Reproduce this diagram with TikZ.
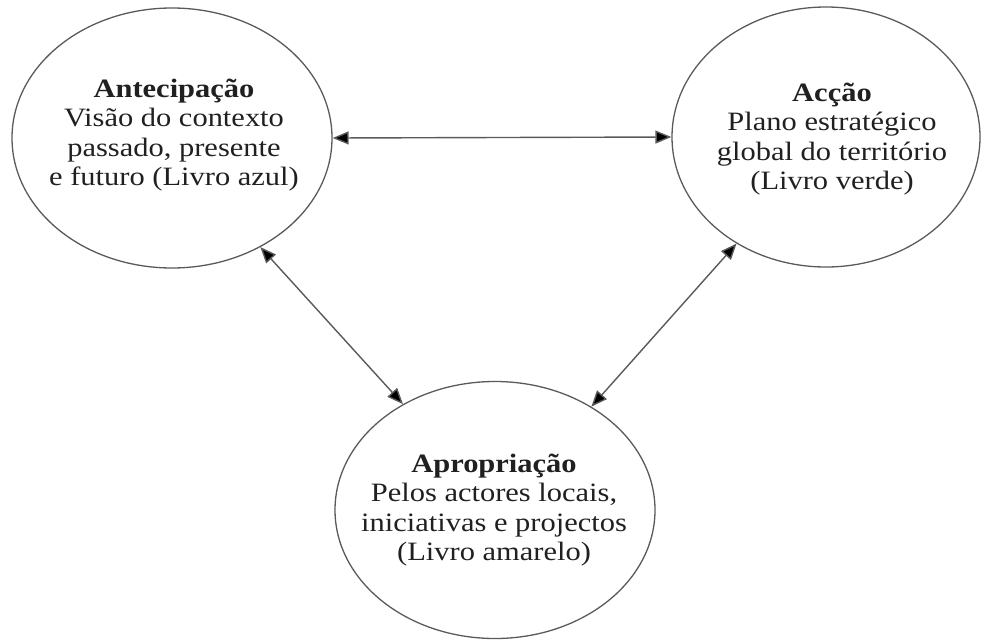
\documentclass[tikz,border=0pt]{standalone}
\usepackage{fontspec}
\setmainfont{Liberation Serif}[FakeStretch=1.15]
\usetikzlibrary{shapes.geometric,arrows.meta}
\definecolor{inkgray}{HTML}{5A5A5A}
\definecolor{textink}{HTML}{202020}
\tikzset{
  bubble/.style={ellipse, draw=inkgray, line width=1.3pt, inner sep=0pt},
  caption/.style={align=center, text=textink, inner sep=0pt,
    font=\fontsize{26.5}{29.5}\selectfont},
  link/.style={draw=inkgray, line width=1.4pt,
    {Triangle[length=16pt,width=13pt,fill=black]}-{Triangle[length=16pt,width=13pt,fill=black]}}
}
\begin{document}
\begin{tikzpicture}[x=1pt,y=-1pt]
  \useasboundingbox (0,0) rectangle (981,640);
  % the three ellipses
  \node[bubble, minimum width=320pt, minimum height=260pt] (ant) at (172,138) {};
  \node[bubble, minimum width=308pt, minimum height=260pt] (acc) at (826,137) {};
  \node[bubble, minimum width=320pt, minimum height=257pt] (apr) at (495,510) {};
  % their texts
  \node[caption] (antText) at (174,135)
    {\textbf{Antecipação}\\Visão do contexto\\passado, presente\\e futuro (Livro azul)};
  \node[caption] (accText) at (832,139)
    {\textbf{Acção}\\Plano estratégico\\global do território\\(Livro verde)};
  \node[caption] (aprText) at (494,510)
    {\textbf{Apropriação}\\Pelos actores locais,\\iniciativas e projectos\\(Livro amarelo)};
  % double-headed connectors
  \draw[link] (ant.east) -- (acc.west);
  \draw[link] (ant.-51) -- (apr.131);
  \draw[link] (acc.-130) -- (apr.47);
\end{tikzpicture}
\end{document}
